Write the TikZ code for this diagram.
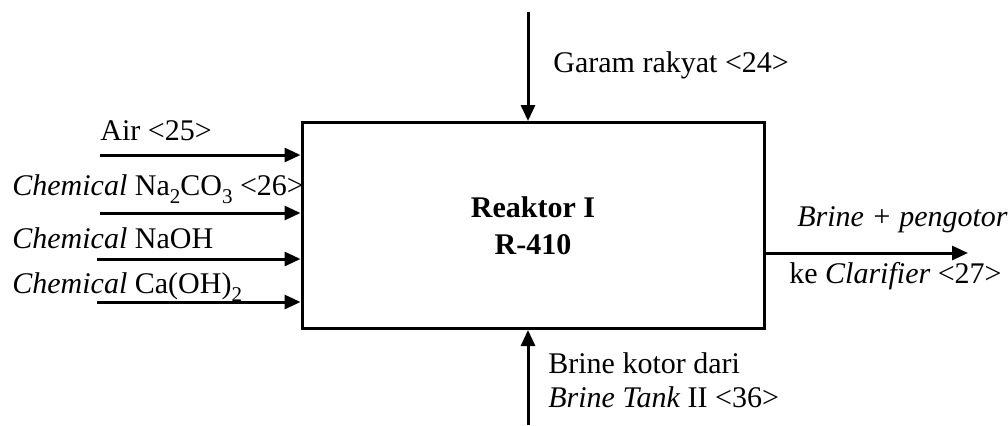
\documentclass[tikz,border=0pt]{standalone}
\usepackage{fontspec}
\setmainfont{Liberation Serif}
\usetikzlibrary{positioning,arrows.meta}
\newcommand\lowsub[1]{\raisebox{-4pt}{\fontsize{10.5}{12}\selectfont #1}}

\begin{document}
\begin{tikzpicture}[x=0.5pt,y=-0.5pt,
  flow/.style={line width=1.5pt,-{Triangle[length=8pt,width=7pt]}},
  lbl/.style={anchor=base west,inner sep=0pt,font=\fontsize{15}{18}\selectfont}]
\useasboundingbox (0,0) rectangle (1008,425);
\node[draw,line width=1.5pt,minimum width=231pt,minimum height=103pt,align=center,
      font=\fontsize{15}{18.5}\selectfont\bfseries] (R410) at (533,225.5) {Reaktor I\\R-410};
% inputs from the left
\coordinate (air) at (100,155);     \draw[flow] (air) -- (air -| R410.west);
\coordinate (na2co3) at (100,213);  \draw[flow] (na2co3) -- (na2co3 -| R410.west);
\coordinate (naoh) at (97,259);     \draw[flow] (naoh) -- (naoh -| R410.west);
\coordinate (caoh) at (97,302);     \draw[flow] (caoh) -- (caoh -| R410.west);
\node[lbl] (lair) at (100,140) {Air <25>};
\node[lbl] (lna2co3) at (12,195) {\textit{Chemical} Na\lowsub{2}CO\lowsub{3} <26>};
\node[lbl] (lnaoh) at (12,248) {\textit{Chemical} NaOH};
\node[lbl] (lcaoh) at (12,293) {\textit{Chemical} Ca(OH)\lowsub{2}};
% top and bottom feeds
\coordinate (garam) at (528,12);   \draw[flow] (garam) -- (garam |- R410.north);
\node[lbl] (lgaram) at (553,72) {Garam rakyat <24>};
\coordinate (brine) at (528,425);  \draw[flow] (brine) -- (brine |- R410.south);
\node[lbl] (lbrine) at (548,373) {Brine kotor dari};
\node[lbl] (ltank) at (548,407) {\textit{Brine Tank} II <36>};
% product
\coordinate (out) at (968,253);    \draw[flow] (R410.east |- out) -- (out);
\node[lbl] (lout) at (797,226) {\textit{Brine + pengotor}};
\node[lbl] (lclar) at (789,283) {ke \textit{Clarifier} <27>};
\end{tikzpicture}
\end{document}
